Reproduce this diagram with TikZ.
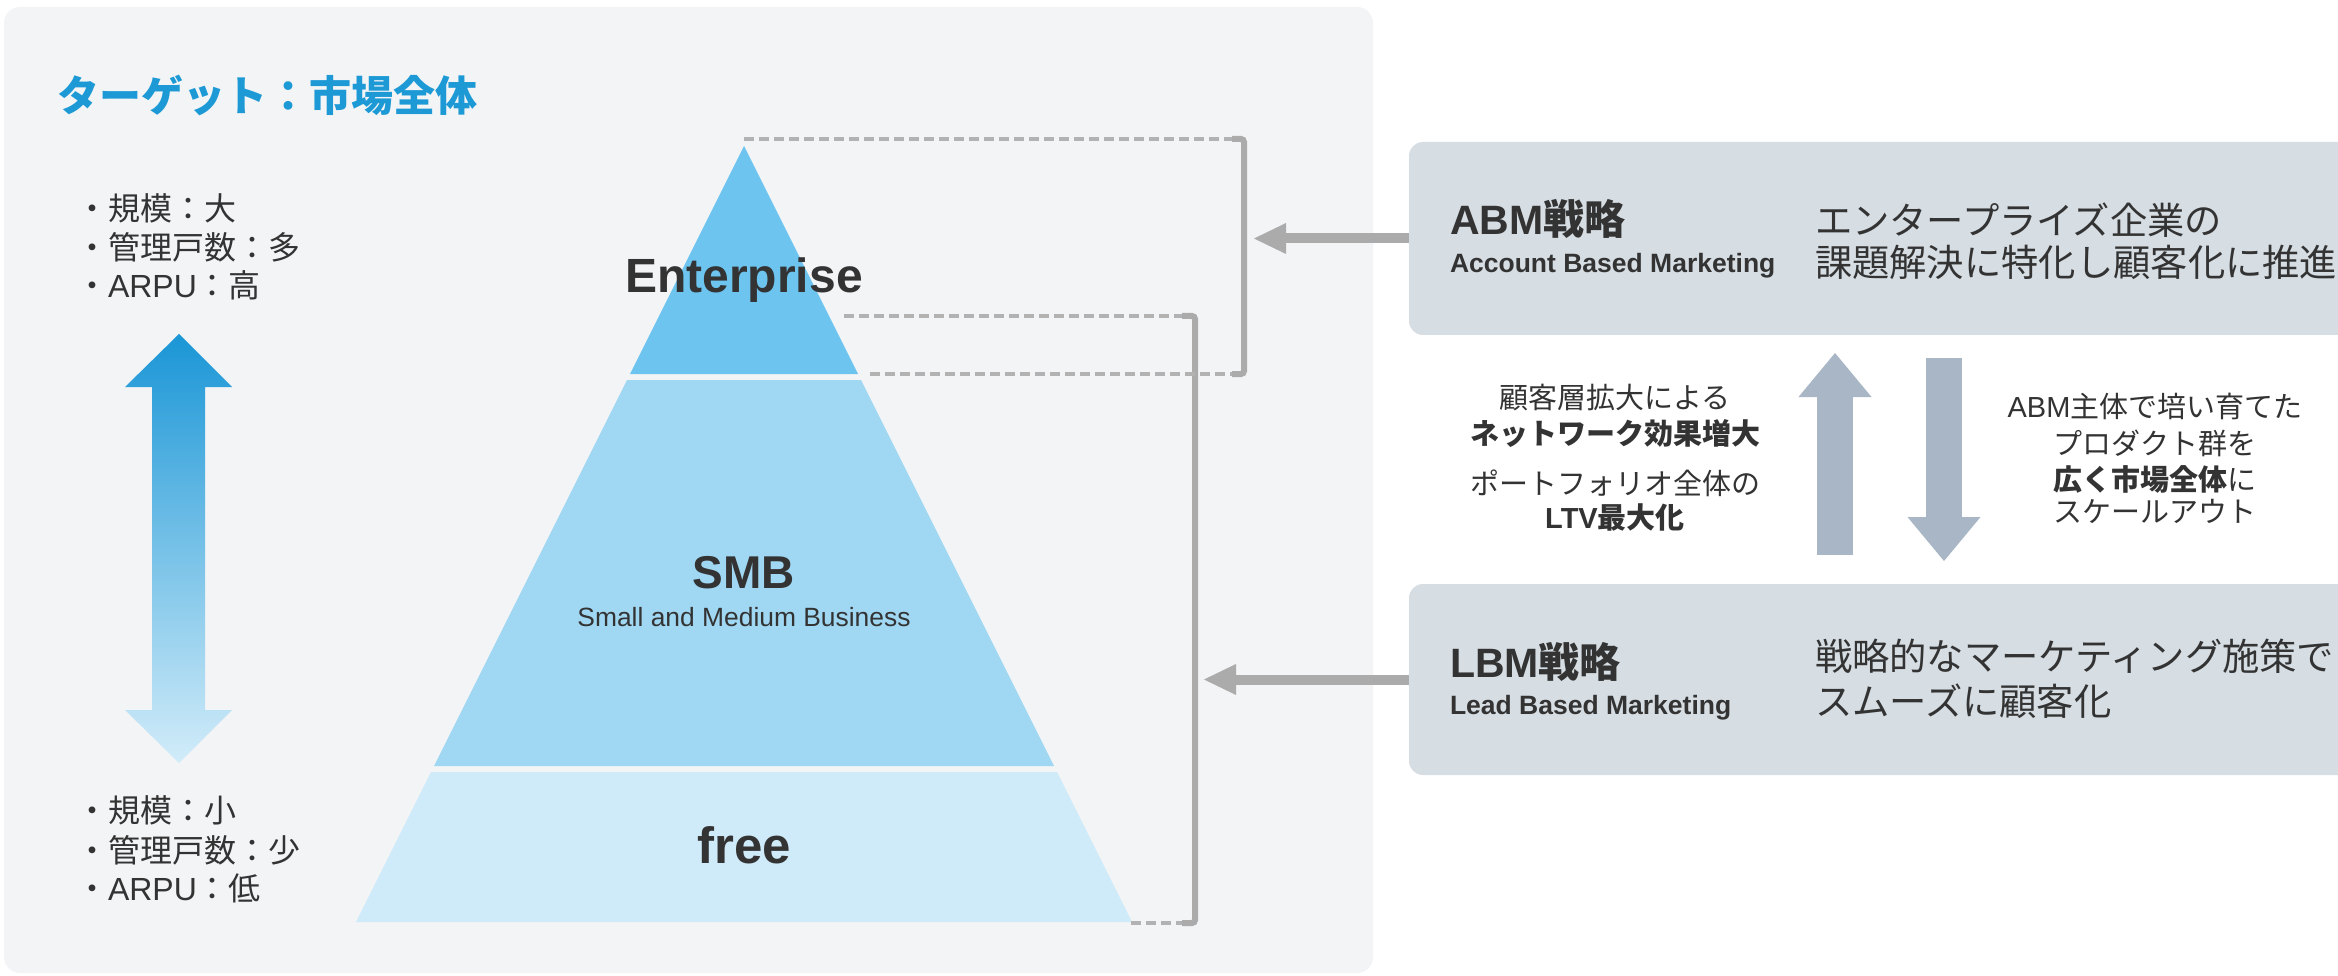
\documentclass[tikz,border=0pt]{standalone}
\usepackage{fontspec}
\setmainfont{Liberation Sans}
\newfontfamily\jp{Noto Sans CJK JP}
\usetikzlibrary{arrows.meta}
\definecolor{panelbg}{HTML}{F3F4F6}
\definecolor{boxbg}{HTML}{D6DDE3}
\definecolor{txt}{HTML}{333333}
\definecolor{titleblue}{HTML}{1D9AD6}
\definecolor{entc}{HTML}{6CC4EF}
\definecolor{smbc}{HTML}{A0D8F3}
\definecolor{freec}{HTML}{CFEAF8}
\definecolor{gsolid}{HTML}{ABABAB}
\definecolor{gdash}{HTML}{B2B2B2}
\definecolor{barrowc}{HTML}{A8B6C5}
\definecolor{gtop}{HTML}{1A96D6}
\definecolor{gbot}{HTML}{D2ECF9}
\newcommand\fsz[1]{\fontsize{#1}{#1}\selectfont}
\begin{document}
\begin{tikzpicture}[x=1pt,y=-1pt,
  every node/.style={inner sep=0pt,outer sep=0pt,text=txt},
  listtxt/.style={anchor=west,font=\jp\fsz{32}},
  midtxt/.style={anchor=center,font=\jp\fsz{29}},
  desctxt/.style={anchor=west,font=\jp\fsz{37.3}},
  sbox/.style={fill=boxbg,rounded corners=14pt,anchor=north west,minimum width=1000pt,minimum height=192pt},
  dashline/.style={draw=gdash,line width=3.5pt,dash pattern=on 10pt off 5pt},
  bracketline/.style={draw=gsolid,line width=6pt,rounded corners=3pt},
  grayarrow/.style={draw=gsolid,line width=10pt,-{Triangle[length=32pt,width=31pt,line width=0pt]}},
  bluearrow/.style={draw=barrowc,line width=36pt,-{Triangle[length=44pt,width=73pt,line width=0pt]}}]
\useasboundingbox (0,0) rectangle (2338,976);
\fill[white] (0,0) rectangle (2338,976);
% left panel
\fill[panelbg,rounded corners=16pt] (4,7) rectangle (1373,973);
\node[anchor=west,text=titleblue,font=\jp\bfseries\fsz{42}] (title) at (57,95) {ターゲット：市場全体};
% list texts
\node[listtxt] (hi1) at (76,208) {・規模：大};
\node[listtxt] (hi2) at (76,247) {・管理戸数：多};
\node[listtxt] (hi3) at (76,285) {・{\rmfamily ARPU}：高};
\node[listtxt] (lo1) at (76,810) {・規模：小};
\node[listtxt] (lo2) at (76,850) {・管理戸数：少};
\node[listtxt] (lo3) at (76,888) {・{\rmfamily ARPU}：低};
% gradient double arrow
\shade[top color=gtop,bottom color=gbot] (179,334) -- (232,387) -- (205,387) -- (205,710) -- (232,710) -- (179,763) -- (125,710) -- (152,710) -- (152,387) -- (125,387) -- cycle;
% pyramid
\fill[entc] (744,146) -- (858,374) -- (630,374) -- cycle;
\fill[smbc] (627,380) -- (861,380) -- (1054,766) -- (434,766) -- cycle;
\fill[freec] (431,772) -- (1057,772) -- (1132,922) -- (356,922) -- cycle;
\node[anchor=base,font=\bfseries\fsz{48}] (ent) at (744,293) {Enterprise};
\node[anchor=base,font=\bfseries\fsz{46}] (smb) at (744,588) {SMB};
\node[anchor=base,font=\fsz{26.4}] (smbsub) at (744,626) {Small and Medium Business};
\node[anchor=base,font=\bfseries\fsz{51}] (free) at (744,863) {free};
% bracket coordinates
\coordinate (aT) at (744,139);
\coordinate (aTc) at (1232,139);
\coordinate (aBc) at (1232,374);
\coordinate (aB) at (870,374);
\coordinate (bT) at (844,316);
\coordinate (bTc) at (1182,316);
\coordinate (bBc) at (1182,923);
\coordinate (bB) at (1131,923);
\draw[bracketline] (aTc) -- (1244,139) -- (1244,374) -- (aBc);
\draw[bracketline] (bTc) -- (1195,316) -- (1195,923) -- (bBc);
\draw[dashline] (aT) -- (aTc);
\draw[dashline] (aB) -- (aBc);
\draw[dashline] (bT) -- (bTc);
\draw[dashline] (bB) -- (bBc);
% right boxes
\node[sbox,minimum height=193pt] (abm) at (1409,142) {};
\node[sbox,minimum height=191pt] (lbm) at (1409,584) {};
\node[anchor=base west,font=\bfseries\fsz{41}] (abmt) at (1450,235) {ABM{\jp 戦略}};
\node[anchor=base west,font=\bfseries\fsz{26.5}] (abms) at (1450,273) {Account Based Marketing};
\node[desctxt] (abmd1) at (1815,220) {エンタープライズ企業の};
\node[desctxt] (abmd2) at (1815,262) {課題解決に特化し顧客化に推進};
\node[anchor=base west,font=\bfseries\fsz{41}] (lbmt) at (1450,677) {LBM{\jp 戦略}};
\node[anchor=base west,font=\bfseries\fsz{26.5}] (lbms) at (1450,714) {Lead Based Marketing};
\node[desctxt] (lbmd1) at (1815,656) {戦略的なマーケティング施策で};
\node[desctxt] (lbmd2) at (1815,701) {スムーズに顧客化};
% arrows to brackets
\coordinate (abmtip) at (1254,238.5);
\coordinate (lbmtip) at (1204,679.5);
\draw[grayarrow] (abm.west) -- (abmtip);
\draw[grayarrow] (lbm.west) -- (lbmtip);
% middle arrows
\coordinate (upbot) at (1835,555);
\coordinate (uptip) at (1835,353);
\coordinate (dntop) at (1944,358);
\coordinate (dntip) at (1944,561);
\draw[bluearrow] (upbot) -- (uptip);
\draw[bluearrow] (dntop) -- (dntip);
% middle texts
\node[midtxt] (m1) at (1615,398) {顧客層拡大による};
\node[midtxt,font=\jp\bfseries\fsz{29}] (m2) at (1615,434) {ネットワーク効果増大};
\node[midtxt] (m3) at (1615,483) {ポートフォリオ全体の};
\node[midtxt,font=\jp\bfseries\fsz{29}] (m4) at (1615,518) {{\rmfamily LTV}最大化};
\node[midtxt] (r1) at (2155,406) {{\rmfamily ABM}主体で培い育てた};
\node[midtxt] (r2) at (2155,443) {プロダクト群を};
\node[midtxt] (r3) at (2155,479) {{\bfseries 広く市場全体}に};
\node[midtxt] (r4) at (2155,511) {スケールアウト};
\end{tikzpicture}
\end{document}
